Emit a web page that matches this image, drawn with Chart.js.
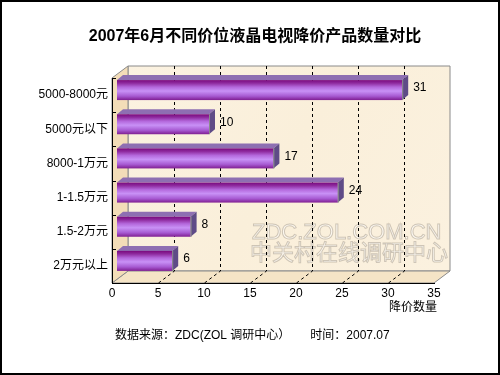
<!DOCTYPE html>
<html>
<head>
<meta charset="utf-8">
<script src="https://cdn.jsdelivr.net/npm/chart.js@4.4.1/dist/chart.umd.min.js"></script>
<style>
  html, body { margin: 0; padding: 0; background: #fff; }
  #c { display: block; }
</style>
</head>
<body>
<canvas id="c" width="500" height="375"></canvas>
<script>
// Données du graphique
const categories = ['5000-8000元', '5000元以下', '8000-1万元', '1-1.5万元', '1.5-2万元', '2万元以上'];
const counts = [31, 10, 17, 24, 8, 6];
const xTicks = [0, 5, 10, 15, 20, 25, 30, 35];
const chartTitle = '2007年6月不同价位液晶电视降价产品数量对比';
const xAxisTitle = '降价数量';
const sourceNote = '数据来源：ZDC(ZOL 调研中心）      时间：2007.07';
const watermark = ['ZDC.ZOL.COM.CN', '中关村在线调研中心'];

const FONT = '"Liberation Sans", Arial, "Noto Sans CJK SC", sans-serif';

// Profondeur 3D des murs et des barres
const WALL = { dx: 16, dy: -12 };
const BAR_OFF = { dx: 5, dy: -5 };
const BAR_DEPTH = { dx: 6, dy: -5 };

function poly(ctx, pts, fill, stroke) {
    ctx.beginPath();
    ctx.moveTo(pts[0][0], pts[0][1]);
    for (let i = 1; i < pts.length; i++) ctx.lineTo(pts[i][0], pts[i][1]);
    ctx.closePath();
    if (fill) { ctx.fillStyle = fill; ctx.fill(); }
    if (stroke) { ctx.strokeStyle = stroke; ctx.lineWidth = 1; ctx.stroke(); }
}

// Murs, grille pointillée, titres et filigrane
const wallsPlugin = {
    id: 'walls',
    beforeDraw(chart) {
        const ctx = chart.ctx;
        const a = chart.chartArea;
        const xs = chart.scales.x;
        const L = a.left, R = a.right, T = a.top, B = a.bottom;
        ctx.save();

        // Mur du fond
        const bg = ctx.createLinearGradient(L, T, R, B);
        bg.addColorStop(0, '#fbf2e1');
        bg.addColorStop(0.5, '#faefda');
        bg.addColorStop(1, '#fbf1df');
        poly(ctx, [[L + WALL.dx, T + WALL.dy], [R + WALL.dx, T + WALL.dy], [R + WALL.dx, B + WALL.dy], [L + WALL.dx, B + WALL.dy]], bg, '#8a8a8a');
        // Sol
        poly(ctx, [[L, B], [R, B], [R + WALL.dx, B + WALL.dy], [L + WALL.dx, B + WALL.dy]], '#f5e4c6', '#8a8a8a');
        // Mur gauche
        poly(ctx, [[L, T], [L + WALL.dx, T + WALL.dy], [L + WALL.dx, B + WALL.dy], [L, B]], '#f3ddb8', '#8a8a8a');

        // Filigrane
        ctx.textAlign = 'left';
        ctx.textBaseline = 'middle';
        ctx.lineWidth = 1;
        ctx.font = '22px ' + FONT;
        ctx.fillStyle = 'rgba(255,255,255,0.55)';
        ctx.strokeStyle = 'rgba(150,140,125,0.45)';
        ctx.fillText(watermark[0], 252, 233);
        ctx.strokeText(watermark[0], 252, 233);
        ctx.font = '22px "Noto Sans CJK SC", sans-serif';
        ctx.fillText(watermark[1], 250, 252);
        ctx.strokeText(watermark[1], 250, 252);

        // Grille pointillée (mur du fond + sol)
        ctx.strokeStyle = '#000';
        ctx.lineWidth = 1;
        ctx.setLineDash([3, 3]);
        xTicks.slice(1, -1).forEach(v => {
            const fx = Math.round(xs.getPixelForValue(v)) + 0.5;
            const bx = fx + WALL.dx;
            ctx.beginPath();
            ctx.moveTo(bx, T + WALL.dy);
            ctx.lineTo(bx, B + WALL.dy);
            ctx.lineTo(fx, B);
            ctx.stroke();
        });
        ctx.setLineDash([]);

        // Petits repères des catégories sur le mur gauche
        const ys = chart.scales.y;
        for (let i = 0; i <= categories.length; i++) {
            const y = Math.round(ys.getPixelForValue(i - 0.5)) + 0.5;
            ctx.beginPath();
            ctx.moveTo(L, y);
            ctx.lineTo(L + 4, y);
            ctx.stroke();
        }

        // Titre, titre d'axe, source
        ctx.fillStyle = '#000';
        ctx.textAlign = 'center';
        ctx.font = 'bold 16px ' + FONT;
        ctx.fillText(chartTitle, 255, 37);
        ctx.font = '12px ' + FONT;
        ctx.textAlign = 'right';
        ctx.fillText(xAxisTitle, 437, 308);
        ctx.textAlign = 'left';
        ctx.fillText(sourceNote, 115, 336);

        // Cadre
        ctx.strokeStyle = '#000';
        ctx.lineWidth = 2;
        ctx.strokeRect(1, 1, 498, 373);
        ctx.restore();
    }
};

// Barres cylindriques 3D dessinées à partir des éléments de Chart.js
const bars3dPlugin = {
    id: 'bars3d',
    afterDatasetsDraw(chart) {
        const ctx = chart.ctx;
        const meta = chart.getDatasetMeta(0);
        ctx.save();
        meta.data.forEach((bar, i) => {
            const p = bar.getProps(['x', 'y', 'base', 'height'], true);
            const x0 = p.base + BAR_OFF.dx;
            const x1 = p.x + BAR_OFF.dx;
            const top = p.y - p.height / 2 + BAR_OFF.dy;
            const bot = p.y + p.height / 2 + BAR_OFF.dy;

            // Face supérieure
            poly(ctx, [[x0, top], [x0 + BAR_DEPTH.dx, top + BAR_DEPTH.dy], [x1 + BAR_DEPTH.dx, top + BAR_DEPTH.dy], [x1, top]], '#8e6fb2');
            // Face avant avec dégradé
            const g = ctx.createLinearGradient(0, top, 0, bot);
            g.addColorStop(0, '#7a0a7e');
            g.addColorStop(0.15, '#8e2a9e');
            g.addColorStop(0.35, '#b468dc');
            g.addColorStop(0.55, '#c891f6');
            g.addColorStop(0.8, '#a75ad2');
            g.addColorStop(1, '#7f1e92');
            ctx.fillStyle = g;
            ctx.fillRect(x0, top, x1 - x0, bot - top);
            // Extrémité
            poly(ctx, [[x1, top], [x1 + BAR_DEPTH.dx, top + BAR_DEPTH.dy], [x1 + BAR_DEPTH.dx, bot + BAR_DEPTH.dy], [x1, bot]], '#5f4b87');
            ctx.strokeStyle = '#8a8a8a';
            ctx.lineWidth = 1;
            ctx.beginPath();
            ctx.moveTo(x1 + 0.5, top);
            ctx.lineTo(x1 + 0.5, bot);
            ctx.stroke();

            // Valeur
            ctx.fillStyle = '#000';
            ctx.font = '12px ' + FONT;
            ctx.textAlign = 'left';
            ctx.textBaseline = 'middle';
            ctx.fillText(String(counts[i]), x1 + BAR_DEPTH.dx + 5, (top + bot) / 2 - 2);
        });
        ctx.restore();
    }
};

const ctx = document.getElementById('c').getContext('2d');
new Chart(ctx, {
    type: 'bar',
    data: {
        labels: categories,
        datasets: [{
            data: counts,
            backgroundColor: 'rgba(0,0,0,0)',
            borderWidth: 0,
            barPercentage: 0.585,
            categoryPercentage: 1
        }]
    },
    options: {
        indexAxis: 'y',
        responsive: false,
        animation: false,
        devicePixelRatio: 1,
        layout: { padding: { top: 78, right: 66, bottom: 62, left: 0 } },
        plugins: {
            legend: { display: false },
            title: { display: false },
            tooltip: { enabled: false }
        },
        scales: {
            x: {
                min: 0,
                max: 35,
                ticks: { stepSize: 5, color: '#000', font: { family: FONT, size: 12 }, padding: 3, maxRotation: 0 },
                grid: { display: false, drawTicks: false },
                border: { display: true, color: '#000', width: 1 },
                afterFit(scale) { scale.height = 30; }
            },
            y: {
                ticks: { color: '#000', font: { family: FONT, size: 12 }, padding: 4 },
                grid: { display: false, drawTicks: false },
                border: { display: true, color: '#000', width: 1 },
                afterFit(scale) { scale.width = 112; }
            }
        }
    },
    plugins: [wallsPlugin, bars3dPlugin]
});
</script>
</body>
</html>
